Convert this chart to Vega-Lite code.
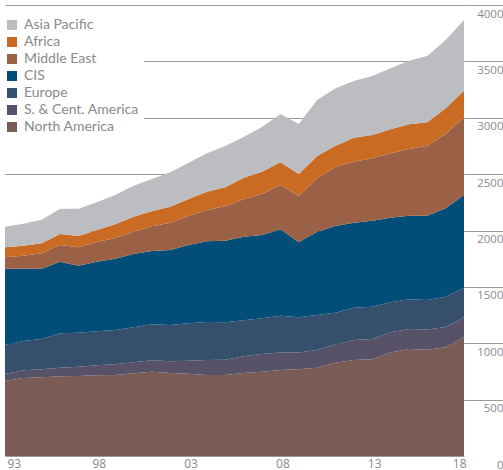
{
  "$schema": "https://vega.github.io/schema/vega-lite/v6.json",
  "width": 459,
  "height": 451,
  "autosize": "none",
  "padding": {"left": 5, "top": 5, "right": 39, "bottom": 14},
  "background": "white",
  "config": {"view": {"stroke": null}},
  "data": {"values": [
    {"year":1993,"region":"North America","value":665},{"year":1993,"region":"S. & Cent. America","value":62},{"year":1993,"region":"Europe","value":257},{"year":1993,"region":"CIS","value":677},{"year":1993,"region":"Middle East","value":101},{"year":1993,"region":"Africa","value":89},{"year":1993,"region":"Asia Pacific","value":183},
    {"year":1994,"region":"North America","value":692},{"year":1994,"region":"S. & Cent. America","value":68},{"year":1994,"region":"Europe","value":260},{"year":1994,"region":"CIS","value":641},{"year":1994,"region":"Middle East","value":116},{"year":1994,"region":"Africa","value":88},{"year":1994,"region":"Asia Pacific","value":195},
    {"year":1995,"region":"North America","value":698},{"year":1995,"region":"S. & Cent. America","value":71},{"year":1995,"region":"Europe","value":269},{"year":1995,"region":"CIS","value":623},{"year":1995,"region":"Middle East","value":137},{"year":1995,"region":"Africa","value":88},{"year":1995,"region":"Asia Pacific","value":210},
    {"year":1996,"region":"North America","value":707},{"year":1996,"region":"S. & Cent. America","value":76},{"year":1996,"region":"Europe","value":305},{"year":1996,"region":"CIS","value":635},{"year":1996,"region":"Middle East","value":148},{"year":1996,"region":"Africa","value":98},{"year":1996,"region":"Asia Pacific","value":224},
    {"year":1997,"region":"North America","value":710},{"year":1997,"region":"S. & Cent. America","value":82},{"year":1997,"region":"Europe","value":302},{"year":1997,"region":"CIS","value":594},{"year":1997,"region":"Middle East","value":163},{"year":1997,"region":"Africa","value":100},{"year":1997,"region":"Asia Pacific","value":242},
    {"year":1998,"region":"North America","value":716},{"year":1998,"region":"S. & Cent. America","value":88},{"year":1998,"region":"Europe","value":302},{"year":1998,"region":"CIS","value":617},{"year":1998,"region":"Middle East","value":175},{"year":1998,"region":"Africa","value":106},{"year":1998,"region":"Asia Pacific","value":246},
    {"year":1999,"region":"North America","value":718},{"year":1999,"region":"S. & Cent. America","value":95},{"year":1999,"region":"Europe","value":305},{"year":1999,"region":"CIS","value":632},{"year":1999,"region":"Middle East","value":184},{"year":1999,"region":"Africa","value":121},{"year":1999,"region":"Asia Pacific","value":260},
    {"year":2000,"region":"North America","value":733},{"year":2000,"region":"S. & Cent. America","value":98},{"year":2000,"region":"Europe","value":310},{"year":2000,"region":"CIS","value":651},{"year":2000,"region":"Middle East","value":197},{"year":2000,"region":"Africa","value":134},{"year":2000,"region":"Asia Pacific","value":274},
    {"year":2001,"region":"North America","value":748},{"year":2001,"region":"S. & Cent. America","value":101},{"year":2001,"region":"Europe","value":319},{"year":2001,"region":"CIS","value":650},{"year":2001,"region":"Middle East","value":219},{"year":2001,"region":"Africa","value":133},{"year":2001,"region":"Asia Pacific","value":287},
    {"year":2002,"region":"North America","value":736},{"year":2002,"region":"S. & Cent. America","value":104},{"year":2002,"region":"Europe","value":322},{"year":2002,"region":"CIS","value":665},{"year":2002,"region":"Middle East","value":242},{"year":2002,"region":"Africa","value":142},{"year":2002,"region":"Asia Pacific","value":305},
    {"year":2003,"region":"North America","value":730},{"year":2003,"region":"S. & Cent. America","value":115},{"year":2003,"region":"Europe","value":332},{"year":2003,"region":"CIS","value":694},{"year":2003,"region":"Middle East","value":260},{"year":2003,"region":"Africa","value":148},{"year":2003,"region":"Asia Pacific","value":322},
    {"year":2004,"region":"North America","value":718},{"year":2004,"region":"S. & Cent. America","value":133},{"year":2004,"region":"Europe","value":337},{"year":2004,"region":"CIS","value":716},{"year":2004,"region":"Middle East","value":278},{"year":2004,"region":"Africa","value":162},{"year":2004,"region":"Asia Pacific","value":341},
    {"year":2005,"region":"North America","value":718},{"year":2005,"region":"S. & Cent. America","value":136},{"year":2005,"region":"Europe","value":332},{"year":2005,"region":"CIS","value":724},{"year":2005,"region":"Middle East","value":305},{"year":2005,"region":"Africa","value":168},{"year":2005,"region":"Asia Pacific","value":366},
    {"year":2006,"region":"North America","value":736},{"year":2006,"region":"S. & Cent. America","value":148},{"year":2006,"region":"Europe","value":319},{"year":2006,"region":"CIS","value":742},{"year":2006,"region":"Middle East","value":334},{"year":2006,"region":"Africa","value":189},{"year":2006,"region":"Asia Pacific","value":361},
    {"year":2007,"region":"North America","value":748},{"year":2007,"region":"S. & Cent. America","value":157},{"year":2007,"region":"Europe","value":316},{"year":2007,"region":"CIS","value":739},{"year":2007,"region":"Middle East","value":364},{"year":2007,"region":"Africa","value":198},{"year":2007,"region":"Asia Pacific","value":396},
    {"year":2008,"region":"North America","value":763},{"year":2008,"region":"S. & Cent. America","value":156},{"year":2008,"region":"Europe","value":325},{"year":2008,"region":"CIS","value":767},{"year":2008,"region":"Middle East","value":393},{"year":2008,"region":"Africa","value":201},{"year":2008,"region":"Asia Pacific","value":428},
    {"year":2009,"region":"North America","value":769},{"year":2009,"region":"S. & Cent. America","value":150},{"year":2009,"region":"Europe","value":311},{"year":2009,"region":"CIS","value":665},{"year":2009,"region":"Middle East","value":414},{"year":2009,"region":"Africa","value":192},{"year":2009,"region":"Asia Pacific","value":444},
    {"year":2010,"region":"North America","value":783},{"year":2010,"region":"S. & Cent. America","value":157},{"year":2010,"region":"Europe","value":311},{"year":2010,"region":"CIS","value":738},{"year":2010,"region":"Middle East","value":474},{"year":2010,"region":"Africa","value":198},{"year":2010,"region":"Asia Pacific","value":496},
    {"year":2011,"region":"North America","value":828},{"year":2011,"region":"S. & Cent. America","value":162},{"year":2011,"region":"Europe","value":281},{"year":2011,"region":"CIS","value":769},{"year":2011,"region":"Middle East","value":526},{"year":2011,"region":"Africa","value":186},{"year":2011,"region":"Asia Pacific","value":509},
    {"year":2012,"region":"North America","value":851},{"year":2012,"region":"S. & Cent. America","value":178},{"year":2012,"region":"Europe","value":286},{"year":2012,"region":"CIS","value":754},{"year":2012,"region":"Middle East","value":541},{"year":2012,"region":"Africa","value":213},{"year":2012,"region":"Asia Pacific","value":503},
    {"year":2013,"region":"North America","value":857},{"year":2013,"region":"S. & Cent. America","value":181},{"year":2013,"region":"Europe","value":286},{"year":2013,"region":"CIS","value":763},{"year":2013,"region":"Middle East","value":553},{"year":2013,"region":"Africa","value":207},{"year":2013,"region":"Asia Pacific","value":523},
    {"year":2014,"region":"North America","value":919},{"year":2014,"region":"S. & Cent. America","value":178},{"year":2014,"region":"Europe","value":266},{"year":2014,"region":"CIS","value":751},{"year":2014,"region":"Middle East","value":571},{"year":2014,"region":"Africa","value":213},{"year":2014,"region":"Asia Pacific","value":541},
    {"year":2015,"region":"North America","value":949},{"year":2015,"region":"S. & Cent. America","value":177},{"year":2015,"region":"Europe","value":264},{"year":2015,"region":"CIS","value":741},{"year":2015,"region":"Middle East","value":592},{"year":2015,"region":"Africa","value":219},{"year":2015,"region":"Asia Pacific","value":564},
    {"year":2016,"region":"North America","value":943},{"year":2016,"region":"S. & Cent. America","value":180},{"year":2016,"region":"Europe","value":261},{"year":2016,"region":"CIS","value":747},{"year":2016,"region":"Middle East","value":621},{"year":2016,"region":"Africa","value":208},{"year":2016,"region":"Asia Pacific","value":588},
    {"year":2017,"region":"North America","value":964},{"year":2017,"region":"S. & Cent. America","value":180},{"year":2017,"region":"Europe","value":269},{"year":2017,"region":"CIS","value":784},{"year":2017,"region":"Middle East","value":659},{"year":2017,"region":"Africa","value":228},{"year":2017,"region":"Asia Pacific","value":606},
    {"year":2018,"region":"North America","value":1058},{"year":2018,"region":"S. & Cent. America","value":172},{"year":2018,"region":"Europe","value":263},{"year":2018,"region":"CIS","value":822},{"year":2018,"region":"Middle East","value":689},{"year":2018,"region":"Africa","value":236},{"year":2018,"region":"Asia Pacific","value":627}
  ]},
  "transform": [
    {"calculate": "indexof(['North America','S. & Cent. America','Europe','CIS','Middle East','Africa','Asia Pacific'], datum.region)", "as": "stackOrder"}
  ],
  "mark": {"type": "area", "interpolate": "linear", "strokeWidth": 0},
  "encoding": {
    "x": {
      "field": "year", "type": "quantitative",
      "scale": {"domain": [1993, 2018], "nice": false, "zero": false},
      "axis": {
        "title": null, "values": [1993, 1998, 2003, 2008, 2013, 2018],
        "format": "d", "labelExpr": "slice(datum.label, 2)",
        "grid": false, "ticks": false, "domain": false,
        "labelFont": "Open Sans", "labelFontSize": 12, "labelColor": "#8a8a8a",
        "labelBaseline": "top", "labelPadding": 2, "labelFlush": true, "labelOffset": 2,
        "labelOverlap": false
      }
    },
    "y": {
      "field": "value", "type": "quantitative", "stack": "zero",
      "scale": {"domain": [0, 4000], "nice": false},
      "axis": {
        "title": null, "orient": "right", "values": [0, 500, 1000, 1500, 2000, 2500, 3000, 3500, 4000],
        "format": "d",
        "grid": true, "gridColor": "#999999", "gridWidth": 1.2, "gridOpacity": 1,
        "ticks": true, "tickSize": 39, "tickWidth": 1.2,
        "tickColor": {"expr": "datum.value === 0 ? 'rgba(0,0,0,0)' : '#999999'"},
        "domain": false,
        "labelFont": "Open Sans", "labelFontSize": 11.5, "labelColor": "#8a8a8a",
        "labelAlign": "right", "labelBaseline": "middle", "labelOffset": 9, "labelPadding": 0,
        "labelFlush": false, "labelOverlap": false
      }
    },
    "color": {
      "field": "region", "type": "nominal",
      "scale": {
        "domain": ["Asia Pacific", "Africa", "Middle East", "CIS", "Europe", "S. & Cent. America", "North America"],
        "range": ["#bcbdc0", "#c96b23", "#9a6147", "#024e79", "#364f6d", "#575267", "#7a5b56"]
      },
      "legend": {
        "title": null, "orient": "none", "legendX": -5, "legendY": 8,
        "symbolType": "square", "symbolSize": 100, "symbolStrokeWidth": 0, "symbolOpacity": 1,
        "labelFont": "Lato", "labelFontSize": 14, "labelColor": "#8a8a8a", "labelOffset": 5,
        "rowPadding": 3, "padding": 5, "fillColor": "white", "strokeColor": null
      }
    },
    "order": {"field": "stackOrder", "type": "quantitative"}
  }
}
